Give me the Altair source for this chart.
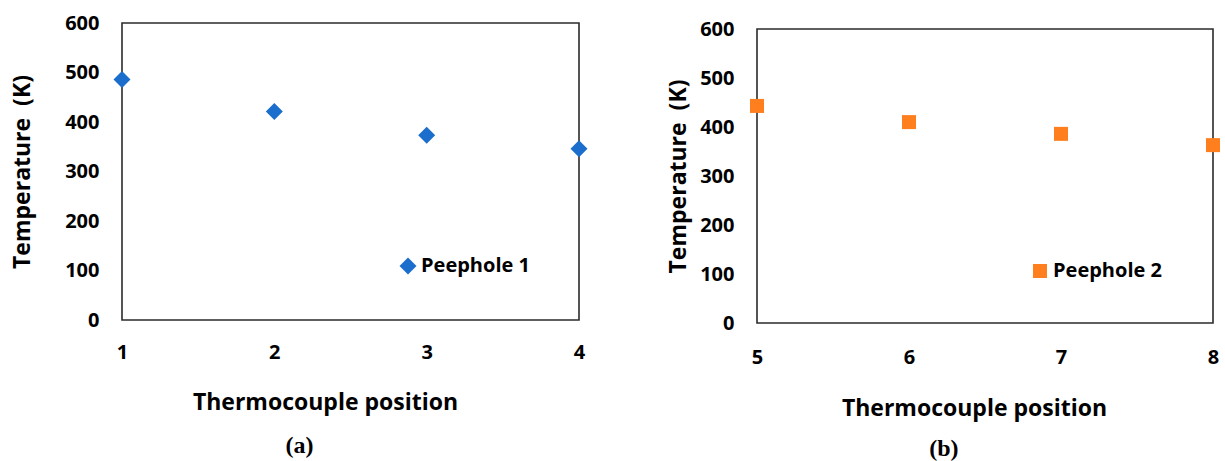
import altair as alt
import pandas as pd

# Thermocouple readings along the two peepholes
positions_a = [1, 2, 3, 4]
temps_a = [486, 421, 373, 346]
positions_b = [5, 6, 7, 8]
temps_b = [443, 410, 386, 363]

series_a = "Peephole 1"
series_b = "Peephole 2"
y_ticks = [0, 100, 200, 300, 400, 500, 600]

FONT = "Open Sans"
BLUE = "#1C6ECC"
ORANGE = "#FF7F1F"


def panel(pos, temps, label, color, shape, size, width, height, caption,
          y_title_pad, x_label_pad, x_title_pad, x_title_x, caption_offset,
          legend_x, legend_y):
    df = pd.DataFrame({
        "position": pos,
        "temperature": temps,
        "series": [label] * len(pos),
    })
    return (
        alt.Chart(
            df,
            title=alt.TitleParams(
                text=caption, orient="bottom", anchor="middle", frame="bounds",
                font="Liberation Serif", fontSize=24, fontWeight="bold",
                color="black", offset=caption_offset,
            ),
        )
        .mark_point(shape=shape, filled=True, size=size, opacity=1)
        .encode(
            x=alt.X(
                "position:Q",
                scale=alt.Scale(domain=[pos[0], pos[-1]], nice=False, zero=False),
                axis=alt.Axis(
                    values=pos, format="d", title="Thermocouple position",
                    labelPadding=x_label_pad, titlePadding=x_title_pad,
                    titleX=x_title_x, titleAlign="center",
                ),
            ),
            y=alt.Y(
                "temperature:Q",
                scale=alt.Scale(domain=[0, 600], nice=False),
                axis=alt.Axis(
                    values=y_ticks, title="Temperature\u00a0 (K)",
                    labelPadding=23, titlePadding=y_title_pad,
                ),
            ),
            color=alt.Color(
                "series:N",
                scale=alt.Scale(domain=[label], range=[color]),
                legend=alt.Legend(
                    orient="none", legendX=legend_x, legendY=legend_y,
                    title=None, padding=0, symbolType=shape, symbolSize=size,
                    symbolOpacity=1, symbolStrokeWidth=0, labelOffset=3,
                    labelFont=FONT, labelFontSize=20, labelFontWeight="bold",
                    labelColor="black",
                ),
            ),
        )
        .properties(width=width, height=height)
    )


left = panel(positions_a, temps_a, series_a, BLUE, "diamond", 289, 457, 297,
             "(a)", 30, 22, 29, 203, 20, 276, 233)
right = panel(positions_b, temps_b, series_b, ORANGE, "square", 196, 456, 294,
              "(b)", 9, 24, 30, 217, 17, 273, 238)

# Invisible strip that drops the right-hand panel a few pixels lower
spacer = (
    alt.Chart(pd.DataFrame({"v": [0]}))
    .mark_rule(opacity=0, strokeWidth=0)
    .encode(x=alt.value(0), y=alt.value(0), y2=alt.value(0))
    .properties(width=1, height=1, view=alt.ViewBackground(strokeOpacity=0))
)

chart = (
    alt.hconcat(
        left,
        alt.vconcat(spacer, right, spacing=5, bounds="flush"),
        spacing=77,
    )
    .resolve_scale(color="independent")
    .resolve_legend(color="independent")
    .properties(padding={"left": 10, "top": 12, "right": 0, "bottom": 0})
    .configure_view(stroke="#2b2b2b", strokeWidth=1.6)
    .configure_axis(
        domain=False, ticks=False, grid=False, labelFlush=False,
        labelOverlap=False, labelFont=FONT, labelFontSize=20,
        labelFontWeight="bold", labelColor="black",
        titleFont=FONT, titleFontSize=23, titleFontWeight="bold",
        titleColor="black",
    )
)

chart.save("out.html", embed_options={"renderer": "svg", "actions": False})
